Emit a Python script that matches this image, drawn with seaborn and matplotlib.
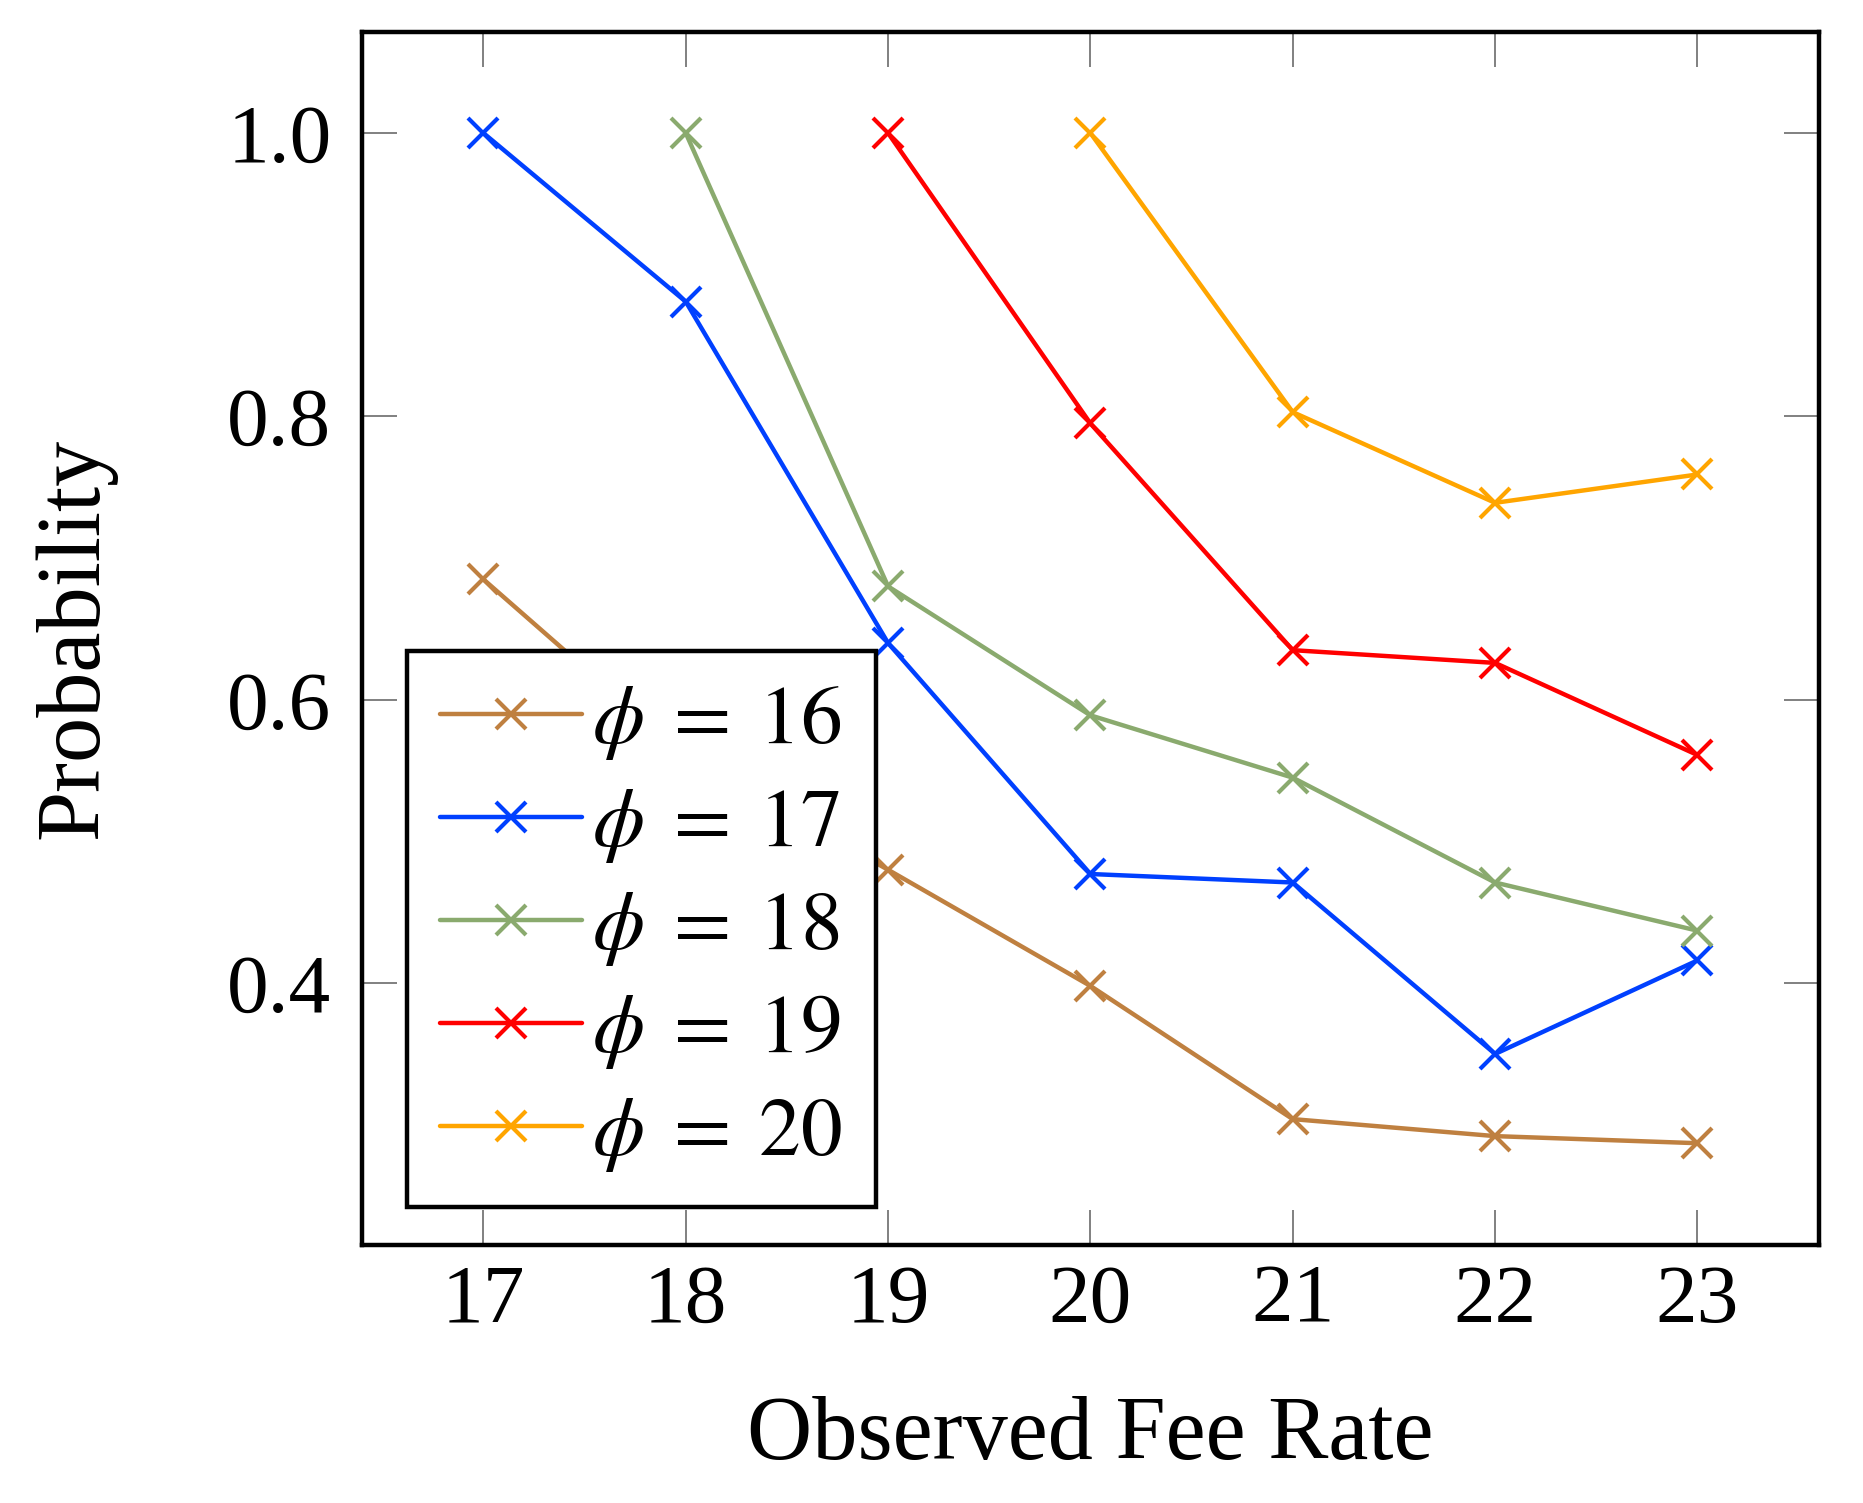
import numpy as np
import matplotlib
matplotlib.use("Agg")
import matplotlib.pyplot as plt
import pandas as pd
import seaborn as sns

# Data
fee_rate = [17, 18, 19, 20, 21, 22, 23]
phi_values = [16, 17, 18, 19, 20]
prob_16 = [0.685, 0.560, 0.480, 0.398, 0.304, 0.292, 0.287]
prob_17 = [1.000, 0.881, 0.640, 0.477, 0.471, 0.350, 0.416]
prob_18 = [None, 1.000, 0.680, 0.589, 0.545, 0.471, 0.437]
prob_19 = [None, None, 1.000, 0.795, 0.635, 0.626, 0.561]
prob_20 = [None, None, None, 1.000, 0.803, 0.739, 0.759]
colors = ["#BF8040", "#0040FF", "#8AAA6E", "#FF0000", "#FFA500"]

# Long-form table for seaborn
rows = []
for phi, probs in zip(phi_values, [prob_16, prob_17, prob_18, prob_19, prob_20]):
    for x, p in zip(fee_rate, probs):
        if p is not None:
            rows.append({"fee": x, "prob": p, "phi": phi})
df = pd.DataFrame(rows)

sns.set_style("white")
plt.rcParams["font.family"] = ["Liberation Serif", "DejaVu Serif"]
plt.rcParams["mathtext.fontset"] = "stix"
plt.rcParams["text.color"] = "black"
plt.rcParams["axes.labelcolor"] = "black"
plt.rcParams["xtick.color"] = "black"
plt.rcParams["ytick.color"] = "black"

fig = plt.figure(figsize=(18.63, 15.03), dpi=100)
ax = fig.add_axes([0.1943, 0.1718, 0.782, 0.8069])

sns.lineplot(data=df, x="fee", y="prob", hue="phi", palette=colors,
             marker="x", markersize=21, markeredgewidth=3.0, linewidth=3.2,
             legend=False, ax=ax)

# seaborn draws unfilled markers with a white edge; give them the line colour
for line, c in zip(ax.lines, colors):
    line.set_markeredgecolor(c)
    line.set_markerfacecolor(c)
    line.set_linewidth(3.2)

ax.set_xlim(16.4, 23.6)
ax.set_ylim(0.2153, 1.0713)
ax.set_xticks(fee_rate)
ax.set_yticks([0.4, 0.6, 0.8, 1.0])
ax.set_yticklabels(["0.4", "0.6", "0.8", "1.0"])

for sp in ax.spines.values():
    sp.set_visible(True)
    sp.set_color("black")
    sp.set_linewidth(3.2)

ax.tick_params(axis="both", direction="in", length=25, width=1.4, color="gray",
               labelcolor="black", labelsize=60, top=True, right=True,
               bottom=True, left=True)
ax.tick_params(axis="x", pad=14)
ax.tick_params(axis="y", pad=22)
ax.grid(False)

ax.set_xlabel("Observed Fee Rate", fontsize=65, labelpad=40)
ax.set_ylabel("Probability", fontsize=65, labelpad=80)

handles = ax.lines[:len(phi_values)]
labels = [r"$\phi\;=\;%d$" % p for p in phi_values]
leg = ax.legend(handles, labels, loc="lower left", bbox_to_anchor=(0.031, 0.031),
                borderaxespad=0, fontsize=60, numpoints=1, handlelength=1.7,
                handletextpad=0.12, labelspacing=0.3, borderpad=0.4,
                fancybox=False, framealpha=1, edgecolor="black")
leg.get_frame().set_linewidth(3.2)

fig.savefig("out.png", dpi=100)
